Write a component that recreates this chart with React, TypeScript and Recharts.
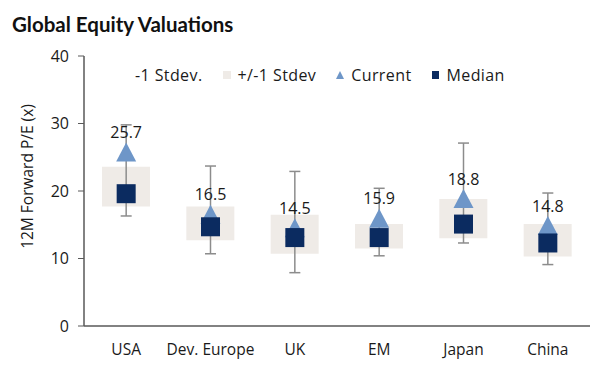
import React from 'react';
import { ComposedChart, Bar, Scatter, XAxis, YAxis, ErrorBar, LabelList } from 'recharts';

const categories = ['USA', 'Dev. Europe', 'UK', 'EM', 'Japan', 'China'];
const lowStdev = [17.7, 12.7, 10.7, 11.5, 13.0, 10.3];
const highStdev = [23.6, 17.7, 16.5, 15.1, 18.8, 15.1];
const median = [19.6, 14.7, 13.1, 13.1, 15.1, 12.3];
const current = [25.7, 16.5, 14.5, 15.9, 18.8, 14.8];
const minVal = [16.3, 10.7, 7.9, 10.4, 12.3, 9.1];
const maxVal = [29.8, 23.7, 22.9, 20.4, 27.1, 19.7];
const yTicks = [0, 10, 20, 30, 40];

const data = categories.map((name, i) => ({
  name,
  base: lowStdev[i],
  band: +(highStdev[i] - lowStdev[i]).toFixed(2),
  median: median[i],
  current: current[i],
  err: [+(median[i] - minVal[i]).toFixed(2), +(maxVal[i] - median[i]).toFixed(2)],
}));

const FONT = '"Open Sans", Lato, sans-serif';
const TITLE_FONT = 'Lato, "Open Sans", sans-serif';
const BAND = '#EFEBE7';
const NAVY = '#0B2B60';
const LIGHT = '#6E96C8';
const GREY = '#8C8C8C';
const AXIS = '#595959';
const TEXT = '#1A1A1A';

const Triangle = (props: any) => {
  const { cx, cy } = props;
  if (cx == null || cy == null) return <g />;
  return <polygon points={`${cx},${cy - 10} ${cx - 10},${cy + 9} ${cx + 10},${cy + 9}`} fill={LIGHT} />;
};

const Square = (props: any) => {
  const { cx, cy } = props;
  if (cx == null || cy == null) return <g />;
  return <rect x={cx - 9.5} y={cy - 9.5} width={19} height={19} fill={NAVY} />;
};

const Empty = () => <g />;

const YLabel = () => (
  <text
    x={19}
    y={168.5}
    transform="rotate(-90 19 168.5)"
    textAnchor="middle"
    dominantBaseline="central"
    fontFamily={FONT}
    fontSize={15.5}
    fill={TEXT}
  >
    12M Forward P/E (x)
  </text>
);

const legendItems = [
  { label: '-1 Stdev.', type: 'none' },
  { label: '+/-1 Stdev', type: 'band' },
  { label: 'Current', type: 'tri' },
  { label: 'Median', type: 'sq' },
];

const LegendBox = () => (
  <div
    style={{
      position: 'absolute',
      left: 112,
      top: 58,
      display: 'flex',
      alignItems: 'center',
      fontFamily: FONT,
      fontSize: 16,
      letterSpacing: 0.4,
      color: TEXT,
      lineHeight: '18px',
      zIndex: 2,
      whiteSpace: 'nowrap',
    }}
  >
    {legendItems.map((it, i) => (
      <div key={it.label} style={{ display: 'flex', alignItems: 'center', marginLeft: i === 0 ? 0 : 20 }}>
        <svg width={8} height={8} style={{ marginRight: 7 }}>
          {it.type === 'band' && <rect x={0} y={0} width={8} height={8} fill={BAND} />}
          {it.type === 'sq' && <rect x={0} y={0} width={7} height={8} fill={NAVY} />}
          {it.type === 'tri' && <polygon points="4,0 0,8 8,8" fill={LIGHT} />}
        </svg>
        <span>{it.label}</span>
      </div>
    ))}
  </div>
);

export default function App() {
  return (
    <div style={{ position: 'relative', width: 607, height: 360 }}>
      <div
        style={{
          position: 'absolute',
          left: 4,
          top: 6,
          fontFamily: TITLE_FONT,
          fontWeight: 700,
          fontSize: 20.5,
          lineHeight: '20px',
          color: '#111',
          zIndex: 2,
          whiteSpace: 'nowrap',
        }}
      >
        Global Equity Valuations
      </div>
      <LegendBox />
      <ComposedChart width={607} height={360} data={data} margin={{ top: 48, right: 25, left: 0, bottom: 12 }}>
        <XAxis
          dataKey="name"
          tickLine={false}
          axisLine={{ stroke: AXIS, strokeWidth: 1.5 }}
          tick={{ fontFamily: FONT, fontSize: 15.5, fill: TEXT }}
          tickMargin={12}
          height={30}
          interval={0}
        />
        <YAxis
          domain={[0, 40]}
          ticks={yTicks}
          width={76}
          tickSize={6}
          tickMargin={9}
          tickLine={{ stroke: AXIS }}
          axisLine={{ stroke: AXIS, strokeWidth: 1.5 }}
          tick={{ fontFamily: FONT, fontSize: 16, fill: TEXT }}
          label={<YLabel />}
        />
        <Bar dataKey="base" stackId="s" fill="transparent" barSize={48} isAnimationActive={false} legendType="none" />
        <Bar dataKey="band" stackId="s" fill={BAND} barSize={48} isAnimationActive={false} />
        <Scatter dataKey="median" shape={Empty} isAnimationActive={false} legendType="none">
          <ErrorBar dataKey="err" direction="y" width={5.5} stroke={GREY} strokeWidth={1.5} />
        </Scatter>
        <Scatter dataKey="current" shape={Triangle} isAnimationActive={false}>
          <LabelList
            dataKey="current"
            position="top"
            offset={10}
            style={{ fontFamily: FONT, fontSize: 16, fill: TEXT }}
          />
        </Scatter>
        <Scatter dataKey="median" shape={Square} isAnimationActive={false} />
      </ComposedChart>
    </div>
  );
}
